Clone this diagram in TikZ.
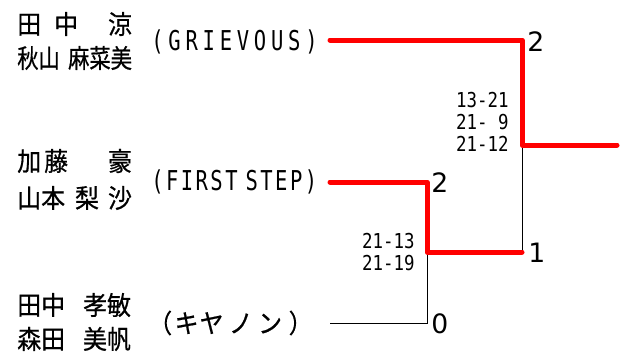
\documentclass[tikz,border=0pt]{standalone}
\usepackage{graphicx}
\usepackage{fontspec}
\setmainfont[FakeStretch=0.92,FakeBold=0.6]{Noto Sans CJK JP}
\newfontfamily\teamfont[FakeStretch=0.75,LetterSpace=17.5]{DejaVu Sans Mono}
\newfontfamily\scorefont[FakeStretch=0.85]{DejaVu Sans Mono}
\newfontfamily\resultfont{DejaVu Sans}

\begin{document}
\begin{tikzpicture}[x=0.75pt,y=-0.75pt,
	player/.style={anchor=west, inner sep=0pt, font=\fontsize{19.5}{19.5}\selectfont},
	team/.style={anchor=west, inner sep=0pt, font=\teamfont\fontsize{20.5}{20.5}\selectfont},
	score/.style={anchor=east, inner sep=0pt, align=right, font=\scorefont\fontsize{15.4}{16.5}\selectfont},
	result/.style={anchor=west, inner sep=0pt, font=\resultfont\fontsize{20}{20}\selectfont},
	win/.style={red, line width=3.75pt, line cap=round, line join=round},
	lose/.style={black, line width=0.75pt}]
	\useasboundingbox (0,0) rectangle (622,354);

	% players
	\node[player] (p1a) at (17,24) {田\hspace{9.75pt}中\hspace{22.5pt}涼};
	\node[player] (p1b) at (17,58) {\scalebox{0.89}[1]{秋山\hspace{7pt}麻菜美}};
	\node[player] (p2a) at (17,161) {加\hspace{2.25pt}藤\hspace{30pt}豪};
	\node[player] (p2b) at (17,198) {山本\hspace{7.5pt}梨\hspace{6.75pt}沙};
	\node[player] (p3a) at (17,305) {田中\hspace{13.5pt}孝敏};
	\node[player] (p3b) at (17,339) {森田\hspace{13.5pt}美帆};

	% teams
	\node[team] (grievous) at (151,42) {(GRIEVOUS)};
	\node[team] (firststep) at (151,182) {\addfontfeature{LetterSpace=9}(FIRST\hspace{6pt}STEP)};
	\node[player] (canon) at (148,323) {（\hspace{1.9pt}キ\hspace{0.75pt}ヤ\hspace{4pt}ノ\hspace{4pt}ン\hspace{5pt}）};

	% bracket points
	\coordinate (t1) at (330,40);
	\coordinate (t2) at (330,182);
	\coordinate (t3) at (330,323);
	\coordinate (m1) at (427,182);
	\coordinate (m2) at (427,252);
	\coordinate (m3) at (427,323);
	\coordinate (f1) at (522,40);
	\coordinate (f2) at (522,145);
	\coordinate (f3) at (522,252);
	\coordinate (champ) at (617,145);

	\draw[lose] (t3) -- (m3) -- (m2);
	\draw[lose] (f2) -- (f3);
	\draw[win] (t2) -- (m1) -- (m2) -- (f3);
	\draw[win] (t1) -- (f1) -- (f2) -- (champ);

	% results and scores
	\node[result] (r1) at (527,42) {2};
	\node[result] (r2) at (431,183) {2};
	\node[result] (r3) at (528,253) {1};
	\node[result] (r4) at (431,324) {0};
	\node[score] (s1) at (509,122) {13-21\\21-\ 9\\21-12};
	\node[score] (s2) at (415,252) {21-13\\21-19};
\end{tikzpicture}
\end{document}
